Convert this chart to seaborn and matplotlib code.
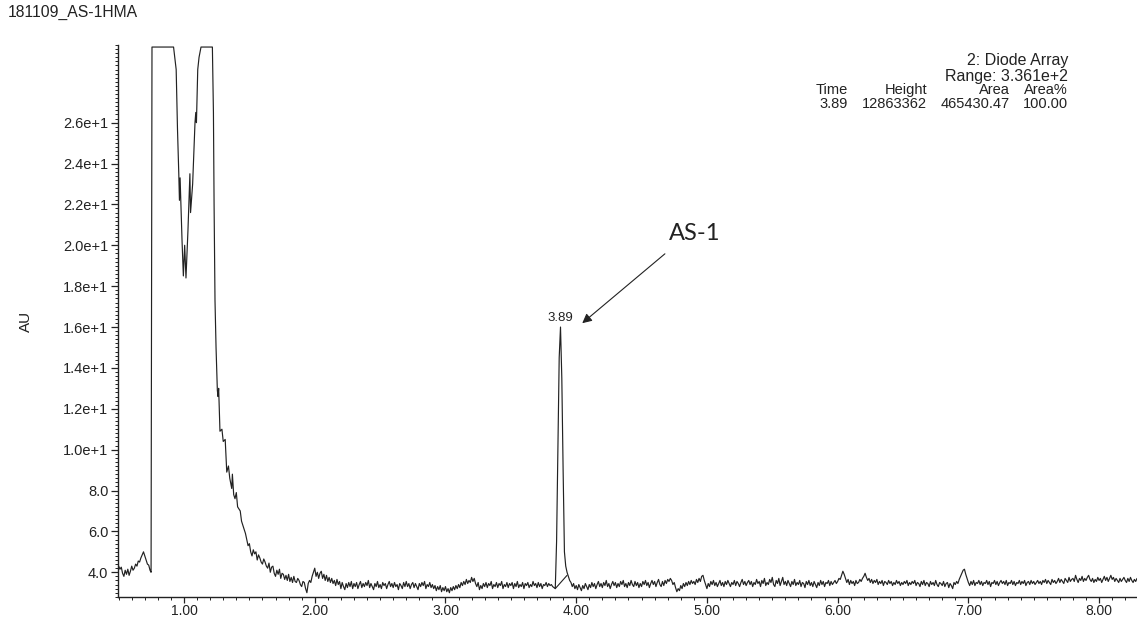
import numpy as np
import pandas as pd
import matplotlib
matplotlib.use('Agg')
import matplotlib.pyplot as plt
import seaborn as sns
from matplotlib.ticker import MultipleLocator

# ---- data (time in min, signal in AU) ----
# start of run, 0.50 - 0.74 min every 0.01 min
lead_au = [4.3, 4.15, 4.25, 3.95, 3.8, 4.1, 3.9, 4.15, 3.85, 4.05,
           4.3, 4.1, 4.2, 4.4, 4.3, 4.55, 4.5, 4.7, 4.85, 5.0,
           4.8, 4.6, 4.4, 4.35, 4.1]
lead_t = np.round(0.50 + 0.01 * np.arange(len(lead_au)), 3)

# clipped solvent front / injection peaks (detector saturates at the top)
front_t = [0.748, 0.755, 0.92, 0.94, 0.95, 0.96, 0.965, 0.97, 0.985, 0.995, 1.005, 1.015,
           1.03, 1.04, 1.045, 1.05, 1.066, 1.084, 1.09, 1.095, 1.105, 1.115, 1.13, 1.217]
front_au = [4.0, 29.7, 29.7, 28.6, 25.7, 23.5, 22.2, 23.3, 20.2, 18.5, 20.0, 18.4,
            20.7, 22.6, 23.5, 21.6, 23.0, 26.0, 26.5, 26.0, 28.6, 29.2, 29.7, 29.7]

# tail of the front
tail_t = [1.225, 1.23, 1.237, 1.245, 1.255, 1.26, 1.265, 1.275, 1.29, 1.30, 1.315, 1.327,
          1.34, 1.35, 1.365, 1.37, 1.38, 1.39, 1.40, 1.41, 1.43, 1.44, 1.45, 1.46, 1.47,
          1.48, 1.49]
tail_au = [26.5, 22.0, 17.3, 15.0, 12.9, 12.6, 13.0, 10.9, 11.0, 10.4, 10.5, 8.9,
           9.2, 8.6, 8.1, 8.8, 7.8, 7.6, 7.9, 7.2, 7.0, 6.5, 6.3, 6.1, 5.9,
           5.6, 5.3]

# end of the tail, 1.50 - 1.98 min every 0.01 min
tail2_au = [5.4, 5.0, 4.8, 5.1, 4.9, 5.0, 4.6, 4.85, 4.7, 4.5,
            4.4, 4.65, 4.5, 4.3, 4.2, 4.45, 4.0, 4.25, 4.3, 3.95,
            3.8, 4.1, 3.9, 4.15, 3.7, 3.95, 3.9, 3.65, 3.85, 3.6,
            3.9, 3.55, 3.75, 3.5, 3.8, 3.55, 3.5, 3.7, 3.6, 3.4,
            3.3, 3.55, 3.5, 3.2, 3.0, 3.45, 3.6, 3.5, 3.8]
tail2_t = np.round(1.50 + 0.01 * np.arange(len(tail2_au)), 3)

# baseline 2.00 - 3.82 min, every 0.01 min
base1_au = [4.2, 3.8, 4.0, 3.7, 3.95, 4.05, 3.7, 3.9, 3.6, 3.85,
            3.55, 3.75, 3.5, 3.7, 3.45, 3.6, 3.35, 3.65, 3.4, 3.55,
            3.2, 3.5, 3.3, 3.15, 3.45, 3.25, 3.5, 3.3, 3.55, 3.2,
            3.45, 3.3, 3.5, 3.2, 3.4, 3.55, 3.25, 3.45, 3.3, 3.5,
            3.35, 3.6, 3.25, 3.45, 3.3, 3.15, 3.45, 3.3, 3.55, 3.25,
            3.4, 3.2, 3.5, 3.35, 3.45, 3.2, 3.4, 3.55, 3.3, 3.45,
            3.25, 3.5, 3.3, 3.4, 3.15, 3.45, 3.35, 3.2, 3.5, 3.3,
            3.55, 3.3, 3.45, 3.2, 3.4, 3.5, 3.25, 3.45, 3.3, 3.15,
            3.45, 3.3, 3.5, 3.35, 3.55, 3.2, 3.4, 3.3, 3.5, 3.25,
            3.4, 3.2, 3.35, 3.1, 3.3, 3.15, 3.35, 3.05, 3.25, 3.1,
            3.3, 3.05, 3.2, 3.0, 3.25, 3.1, 3.3, 3.15, 3.35, 3.2,
            3.4, 3.25, 3.5, 3.35, 3.55, 3.4, 3.65, 3.45, 3.6, 3.5,
            3.75, 3.55, 3.7, 3.45, 3.3, 3.5, 3.15, 3.35, 3.2, 3.45,
            3.3, 3.5, 3.25, 3.45, 3.35, 3.55, 3.2, 3.4, 3.3, 3.5,
            3.25, 3.45, 3.35, 3.55, 3.2, 3.4, 3.3, 3.5, 3.25, 3.45,
            3.35, 3.5, 3.2, 3.45, 3.3, 3.55, 3.25, 3.4, 3.3, 3.5,
            3.2, 3.45, 3.35, 3.5, 3.25, 3.4, 3.3, 3.55, 3.35, 3.45,
            3.25, 3.5, 3.3, 3.45, 3.2, 3.4, 3.35, 3.5, 3.3, 3.45,
            3.35, 3.4, 3.3]
base1_t = np.round(2.00 + 0.01 * np.arange(len(base1_au)), 3)

# AS-1 peak
peak_t = [3.84, 3.85, 3.86, 3.87, 3.88, 3.89, 3.90, 3.91, 3.92, 3.93, 3.94, 3.95,
          3.96, 3.97, 3.98, 3.99]
peak_au = [3.2, 5.5, 10.0, 14.5, 16.0, 13.5, 9.0, 5.0, 4.3, 4.0, 3.8, 3.6,
           3.5, 3.3, 3.45, 3.2]
# integration baseline drawn under the peak
intg_t = [3.84, 3.93]
intg_au = [3.2, 3.85]

# baseline 4.00 - 8.30 min, every 0.01 min
base2_au = [3.35, 3.15, 3.4, 3.25, 3.1, 3.35, 3.2, 3.45, 3.3, 3.15,
            3.4, 3.25, 3.5, 3.3, 3.45, 3.2, 3.4, 3.55, 3.3, 3.45,
            3.25, 3.5, 3.35, 3.6, 3.3, 3.45, 3.2, 3.4, 3.55, 3.35,
            3.5, 3.25, 3.45, 3.3, 3.55, 3.4, 3.6, 3.3, 3.45, 3.25,
            3.5, 3.35, 3.6, 3.4, 3.3, 3.55, 3.35, 3.5, 3.25, 3.45,
            3.3, 3.55, 3.4, 3.6, 3.35, 3.5, 3.25, 3.45, 3.6, 3.4,
            3.55, 3.3, 3.5, 3.65, 3.4, 3.3, 3.55, 3.35, 3.6, 3.45,
            3.65, 3.55, 3.7, 3.6, 3.4, 3.5, 3.25, 3.05, 3.2, 3.1,
            3.35, 3.2, 3.45, 3.3, 3.5, 3.35, 3.55, 3.4, 3.6, 3.45,
            3.55, 3.4, 3.65, 3.5, 3.7, 3.55, 3.8, 3.85, 3.6, 3.4,
            3.2, 3.45, 3.3, 3.55, 3.4, 3.6, 3.35, 3.5, 3.3, 3.45,
            3.6, 3.35, 3.5, 3.3, 3.55, 3.4, 3.6, 3.45, 3.3, 3.5,
            3.4, 3.6, 3.35, 3.55, 3.45, 3.3, 3.5, 3.65, 3.4, 3.55,
            3.35, 3.5, 3.6, 3.4, 3.55, 3.3, 3.5, 3.4, 3.65, 3.45,
            3.55, 3.3, 3.6, 3.45, 3.7, 3.35, 3.5, 3.4, 3.65, 3.5,
            3.75, 3.4, 3.3, 3.6, 3.45, 3.7, 3.35, 3.55, 3.75, 3.4,
            3.55, 3.35, 3.6, 3.45, 3.3, 3.55, 3.4, 3.65, 3.35, 3.5,
            3.4, 3.6, 3.3, 3.5, 3.45, 3.25, 3.55, 3.4, 3.6, 3.35,
            3.5, 3.3, 3.55, 3.4, 3.25, 3.5, 3.35, 3.6, 3.4, 3.55,
            3.3, 3.5, 3.45, 3.6, 3.35, 3.55, 3.4, 3.5, 3.6, 3.45,
            3.55, 3.7, 3.65, 3.85, 4.05, 3.9, 3.7, 3.5, 3.65, 3.4,
            3.6, 3.45, 3.55, 3.35, 3.6, 3.45, 3.5, 3.65, 3.55, 3.7,
            3.8, 3.95, 3.75, 3.6, 3.7, 3.5, 3.65, 3.45, 3.6, 3.5,
            3.65, 3.4, 3.55, 3.45, 3.6, 3.35, 3.55, 3.5, 3.4, 3.6,
            3.45, 3.55, 3.35, 3.5, 3.4, 3.6, 3.45, 3.55, 3.35, 3.5,
            3.4, 3.55, 3.45, 3.6, 3.35, 3.5, 3.4, 3.55, 3.45, 3.6,
            3.35, 3.5, 3.45, 3.3, 3.55, 3.4, 3.6, 3.35, 3.5, 3.45,
            3.3, 3.55, 3.4, 3.5, 3.35, 3.6, 3.4, 3.3, 3.5, 3.45,
            3.35, 3.55, 3.3, 3.45, 3.5, 3.25, 3.45, 3.35, 3.2, 3.5,
            3.4, 3.55, 3.45, 3.65, 3.8, 3.95, 4.1, 4.15, 3.9, 3.7,
            3.5, 3.35, 3.55, 3.4, 3.6, 3.35, 3.5, 3.45, 3.6, 3.4,
            3.55, 3.35, 3.5, 3.45, 3.6, 3.4, 3.55, 3.3, 3.5, 3.45,
            3.6, 3.4, 3.55, 3.35, 3.5, 3.6, 3.45, 3.55, 3.4, 3.6,
            3.35, 3.5, 3.45, 3.6, 3.4, 3.55, 3.35, 3.5, 3.45, 3.6,
            3.4, 3.55, 3.45, 3.6, 3.35, 3.5, 3.55, 3.4, 3.6, 3.45,
            3.55, 3.4, 3.5, 3.6, 3.45, 3.55, 3.4, 3.6, 3.5, 3.65,
            3.45, 3.6, 3.5, 3.4, 3.65, 3.5, 3.6, 3.45, 3.55, 3.7,
            3.5, 3.65, 3.55, 3.45, 3.7, 3.6, 3.5, 3.75, 3.55, 3.65,
            3.7, 3.55, 3.85, 3.65, 3.5, 3.7, 3.6, 3.8, 3.55, 3.7,
            3.6, 3.75, 3.85, 3.65, 3.55, 3.7, 3.5, 3.65, 3.55, 3.75,
            3.6, 3.7, 3.5, 3.65, 3.8, 3.6, 3.75, 3.55, 3.7, 3.85,
            3.65, 3.75, 3.55, 3.7, 3.6, 3.5, 3.7, 3.55, 3.65, 3.75,
            3.6, 3.5, 3.7, 3.55, 3.75, 3.6, 3.5, 3.65, 3.55, 3.7,
            3.6]
base2_t = np.round(4.00 + 0.01 * np.arange(len(base2_au)), 3)

ytick_vals = [4, 6, 8, 10, 12, 14, 16, 18, 20, 22, 24, 26]
ytick_labels = ['4.0', '6.0', '8.0', '1.0e+1', '1.2e+1', '1.4e+1', '1.6e+1',
                '1.8e+1', '2.0e+1', '2.2e+1', '2.4e+1', '2.6e+1']
xtick_vals = [1, 2, 3, 4, 5, 6, 7, 8]
xtick_labels = ['1.00', '2.00', '3.00', '4.00', '5.00', '6.00', '7.00', '8.00']

peak_time_label = '3.89'
header = ['Time', 'Height', 'Area', 'Area%']
row = ['3.89', '12863362', '465430.47', '100.00']

# ---- assemble trace ----
trace = pd.DataFrame({
    'Time': np.concatenate([lead_t, front_t, tail_t, tail2_t, base1_t, peak_t, base2_t]),
    'AU': np.concatenate([lead_au, front_au, tail_au, tail2_au, base1_au, peak_au, base2_au]),
})

sns.set_theme(style='ticks')
plt.rcParams['font.family'] = ['Liberation Sans', 'DejaVu Sans']
ink = '#222222'

fig = plt.figure(figsize=(11.37, 6.18), dpi=100)
ax = fig.add_axes([118 / 1137, 21 / 618, 1019 / 1137, 552 / 618])

sns.lineplot(data=trace, x='Time', y='AU', estimator=None, sort=False,
             color=ink, lw=0.85, ax=ax)
sns.lineplot(x=intg_t, y=intg_au, estimator=None, sort=False, color=ink, lw=0.8, ax=ax)

ax.set_xlim(0.495, 8.29)
ax.set_ylim(2.79, 29.8)
ax.set_xticks(xtick_vals, xtick_labels)
ax.set_yticks(ytick_vals, ytick_labels)
ax.xaxis.set_minor_locator(MultipleLocator(0.1))
ax.yaxis.set_minor_locator(MultipleLocator(0.2))
ax.tick_params(axis='y', which='major', direction='out', length=5, width=0.9,
               labelsize=10.5, colors=ink, pad=2)
ax.tick_params(axis='x', which='major', direction='out', length=4, width=0.9,
               labelsize=10, colors=ink, pad=1)
ax.tick_params(axis='both', which='minor', direction='out', length=2.5, width=0.7, colors=ink)
ax.set_xlabel('')
ax.set_ylabel('AU', fontsize=11, color=ink, labelpad=22)
for side in ['top', 'right']:
    ax.spines[side].set_visible(False)
for side in ['left', 'bottom']:
    ax.spines[side].set_color(ink)
    ax.spines[side].set_linewidth(1.0)

# peak label and annotation
ax.annotate(peak_time_label, xy=(3.88, 16.0), xytext=(0, 2), textcoords='offset points',
            ha='center', va='bottom', fontsize=9.5, color=ink)
ax.annotate('', xy=(4.03, 16.1), xytext=(4.695, 19.67),
            arrowprops=dict(arrowstyle='-|>', color=ink, lw=0.8, mutation_scale=14))
ax.text(4.91, 20.6, 'AS-1', ha='center', va='center', fontsize=17,
        family=['Lato', 'DejaVu Sans'], color=ink)

# header text
fig.text(8 / 1137, 1 - 12 / 618, '181109_AS-1HMA', ha='left', va='center', fontsize=11.3, color=ink)
fig.text(1068 / 1137, 1 - 61 / 618, '2: Diode Array', ha='right', va='center', fontsize=11.5, color=ink)
fig.text(1068 / 1137, 1 - 76 / 618, 'Range: 3.361e+2', ha='right', va='center', fontsize=11.5, color=ink)
col_right = [848, 927, 1010, 1068]
for xr, h, v in zip(col_right, header, row):
    fig.text(xr / 1137, 1 - 90 / 618, h, ha='right', va='center', fontsize=10.5, color=ink)
    fig.text(xr / 1137, 1 - 104 / 618, v, ha='right', va='center', fontsize=10.5, color=ink)

fig.savefig('out.png', dpi=100)
